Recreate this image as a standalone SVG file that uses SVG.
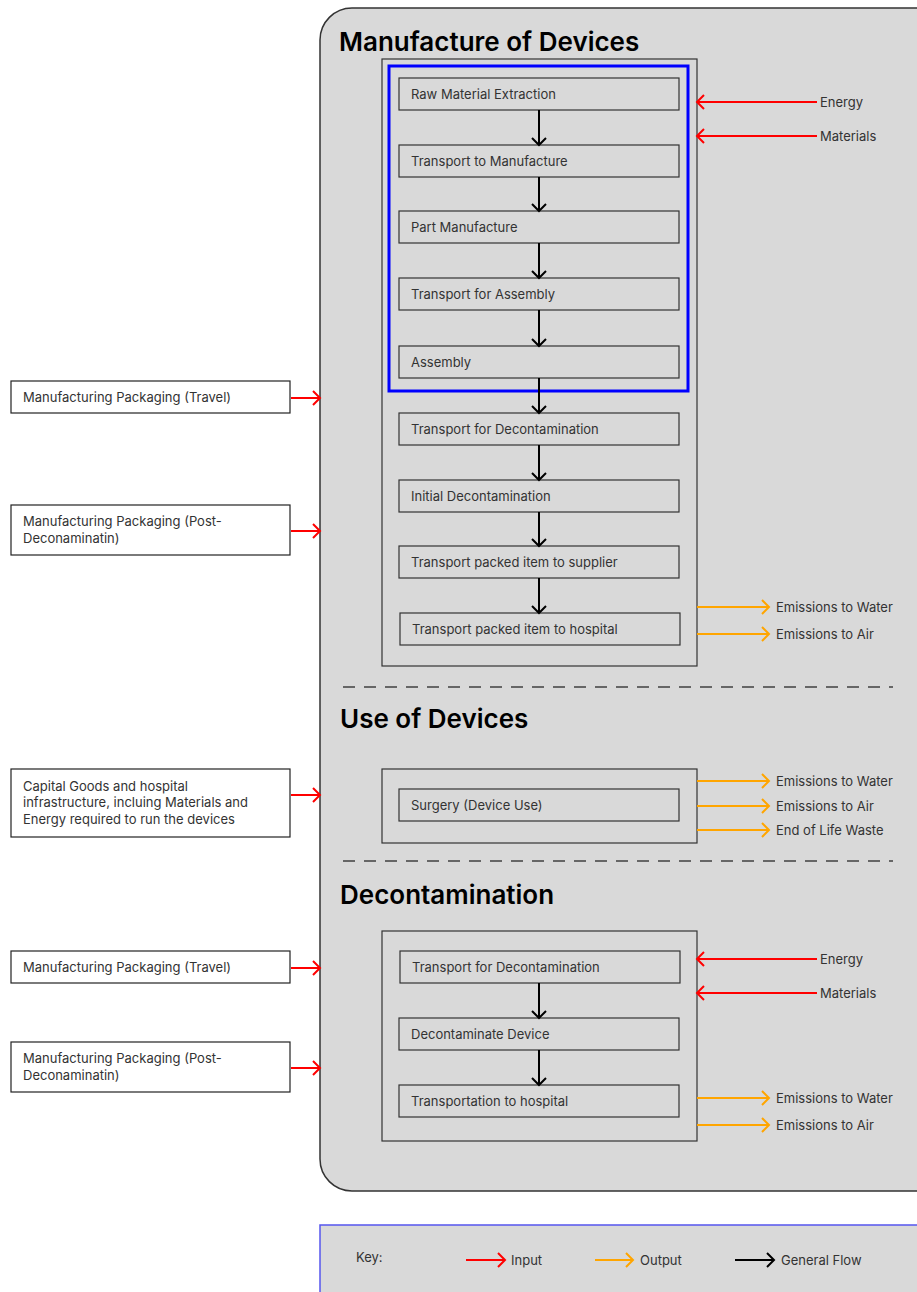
<svg xmlns="http://www.w3.org/2000/svg" width="917" height="1292" viewBox="0 0 917 1292">
<style>
.t{font-family:Inter,"Noto Sans",sans-serif;font-size:13px;fill:#333}
.h{font-family:Inter,"Noto Sans",sans-serif;font-size:26px;font-weight:600;fill:#000}
.pb{fill:#d9d9d9;stroke:#333;stroke-width:1.2}
.lb{fill:#fff;stroke:#222;stroke-width:1.2}
.gb{fill:none;stroke:#333;stroke-width:1.2}
.in{stroke:#f00;stroke-width:2;fill:none;marker-end:url(#mr)}
.out{stroke:#ffa500;stroke-width:2;fill:none;marker-end:url(#mo)}
.fl{stroke:#000;stroke-width:2;fill:none;marker-end:url(#mk)}
.dash{stroke:#666;stroke-width:2;stroke-dasharray:12 9}
</style>
<defs>
<marker id="mr" markerUnits="userSpaceOnUse" markerWidth="20" markerHeight="20" refX="10" refY="8" orient="auto" overflow="visible"><path d="M3,1 L10,8 L3,15" fill="none" stroke="#f00" stroke-width="2"/></marker>
<marker id="mo" markerUnits="userSpaceOnUse" markerWidth="20" markerHeight="20" refX="10" refY="8" orient="auto" overflow="visible"><path d="M3,1 L10,8 L3,15" fill="none" stroke="#ffa500" stroke-width="2"/></marker>
<marker id="mk" markerUnits="userSpaceOnUse" markerWidth="20" markerHeight="20" refX="10" refY="8" orient="auto" overflow="visible"><path d="M3,1 L10,8 L3,15" fill="none" stroke="#000" stroke-width="2"/></marker>
</defs>

<g id="main-container">
<rect x="320" y="8" width="630" height="1183" rx="32" fill="#d9d9d9" stroke="#333" stroke-width="1.5"/>
<text class="h" x="339" y="51">Manufacture of Devices</text>
<line class="dash" x1="343" y1="687" x2="893" y2="687"/>
<text class="h" x="340" y="728">Use of Devices</text>
<line class="dash" x1="343" y1="861" x2="893" y2="861"/>
<text class="h" x="340" y="904">Decontamination</text>
</g>

<g id="manufacture-group">
<rect class="gb" x="382" y="59" width="315" height="607"/>
<rect x="389" y="66" width="299" height="325" fill="none" stroke="#0000ff" stroke-width="3"/>
</g>
<g id="n-raw"><rect class="pb" x="399" y="78" width="280" height="32"/><text class="t" x="411" y="99">Raw Material Extraction</text></g>
<g id="n-tman"><rect class="pb" x="399" y="145" width="280" height="32"/><text class="t" x="411" y="166">Transport to Manufacture</text></g>
<g id="n-part"><rect class="pb" x="399" y="211" width="280" height="32"/><text class="t" x="411" y="232">Part Manufacture</text></g>
<g id="n-tass"><rect class="pb" x="399" y="278" width="280" height="32"/><text class="t" x="411" y="299">Transport for Assembly</text></g>
<g id="n-ass"><rect class="pb" x="399" y="346" width="280" height="32"/><text class="t" x="411" y="367">Assembly</text></g>
<g id="n-tdec"><rect class="pb" x="399" y="413" width="280" height="32"/><text class="t" x="411" y="434">Transport for Decontamination</text></g>
<g id="n-init"><rect class="pb" x="399" y="480" width="280" height="32"/><text class="t" x="411" y="501">Initial Decontamination</text></g>
<g id="n-tsup"><rect class="pb" x="399" y="546" width="280" height="32"/><text class="t" x="411" y="567">Transport packed item to supplier</text></g>
<g id="n-thos"><rect class="pb" x="400" y="613" width="280" height="32"/><text class="t" x="412" y="634">Transport packed item to hospital</text></g>

<g id="use-group"><rect class="gb" x="382" y="769" width="315" height="74"/></g>
<g id="n-surg"><rect class="pb" x="399" y="789" width="280" height="32"/><text class="t" x="411" y="810">Surgery (Device Use)</text></g>

<g id="decon-group"><rect class="gb" x="382" y="931" width="315" height="210"/></g>
<g id="n-dtrans"><rect class="pb" x="400" y="951" width="280" height="32"/><text class="t" x="412" y="972">Transport for Decontamination</text></g>
<g id="n-ddev"><rect class="pb" x="399" y="1018" width="280" height="32"/><text class="t" x="411" y="1039">Decontaminate Device</text></g>
<g id="n-dhos"><rect class="pb" x="399" y="1085" width="280" height="32"/><text class="t" x="411" y="1106">Transportation to hospital</text></g>

<g id="l-pack1"><rect class="lb" x="11" y="381" width="279" height="32"/><text class="t" x="23" y="402">Manufacturing Packaging (Travel)</text></g>
<g id="l-pack2"><rect class="lb" x="11" y="505" width="279" height="50"/><text class="t" x="23" y="526">Manufacturing Packaging (Post-</text><text class="t" x="23" y="543">Deconaminatin)</text></g>
<g id="l-cap"><rect class="lb" x="11" y="769" width="279" height="68"/><text class="t" x="23" y="791">Capital Goods and hospital</text><text class="t" x="23" y="807">infrastructure, incluing Materials and</text><text class="t" x="23" y="824">Energy required to run the devices</text></g>
<g id="l-pack3"><rect class="lb" x="11" y="951" width="279" height="32"/><text class="t" x="23" y="972">Manufacturing Packaging (Travel)</text></g>
<g id="l-pack4"><rect class="lb" x="11" y="1042" width="279" height="50"/><text class="t" x="23" y="1063">Manufacturing Packaging (Post-</text><text class="t" x="23" y="1080">Deconaminatin)</text></g>

<g id="io-labels">
<text class="t" x="820" y="107">Energy</text>
<text class="t" x="820" y="141">Materials</text>
<text class="t" x="776" y="612">Emissions to Water</text>
<text class="t" x="776" y="639">Emissions to Air</text>
<text class="t" x="776" y="786">Emissions to Water</text>
<text class="t" x="776" y="811">Emissions to Air</text>
<text class="t" x="776" y="835">End of Life Waste</text>
<text class="t" x="820" y="964">Energy</text>
<text class="t" x="820" y="998">Materials</text>
<text class="t" x="776" y="1103">Emissions to Water</text>
<text class="t" x="776" y="1130">Emissions to Air</text>
</g>

<g id="connectors">
<path class="fl" d="M539,110 V145"/>
<path class="fl" d="M539,177 V211"/>
<path class="fl" d="M539,243 V278"/>
<path class="fl" d="M539,310 V346"/>
<path class="fl" d="M539,378 V413"/>
<path class="fl" d="M539,445 V480"/>
<path class="fl" d="M539,512 V546"/>
<path class="fl" d="M539,578 V613"/>
<path class="fl" d="M539,983 V1018"/>
<path class="fl" d="M539,1050 V1085"/>
<path class="in" d="M817,102 H697"/>
<path class="in" d="M817,136 H697"/>
<path class="in" d="M817,959 H697"/>
<path class="in" d="M817,993 H697"/>
<path class="in" d="M291,398 H320"/>
<path class="in" d="M291,531 H320"/>
<path class="in" d="M291,795 H320"/>
<path class="in" d="M291,968 H320"/>
<path class="in" d="M291,1068 H320"/>
<path class="out" d="M697,607 H769"/>
<path class="out" d="M697,634 H769"/>
<path class="out" d="M697,781 H769"/>
<path class="out" d="M697,806 H769"/>
<path class="out" d="M697,830 H769"/>
<path class="out" d="M697,1098 H769"/>
<path class="out" d="M697,1125 H769"/>
</g>

<g id="key">
<rect x="320" y="1225" width="620" height="90" fill="#d9d9d9" stroke="#5555ee" stroke-width="1.5"/>
<text class="t" x="356" y="1262">Key:</text>
<path class="in" d="M466,1260 H505"/>
<text class="t" x="511" y="1265">Input</text>
<path class="out" d="M595,1260 H633"/>
<text class="t" x="640" y="1265">Output</text>
<path class="fl" d="M735,1260 H774"/>
<text class="t" x="781" y="1265">General Flow</text>
</g>
</svg>
